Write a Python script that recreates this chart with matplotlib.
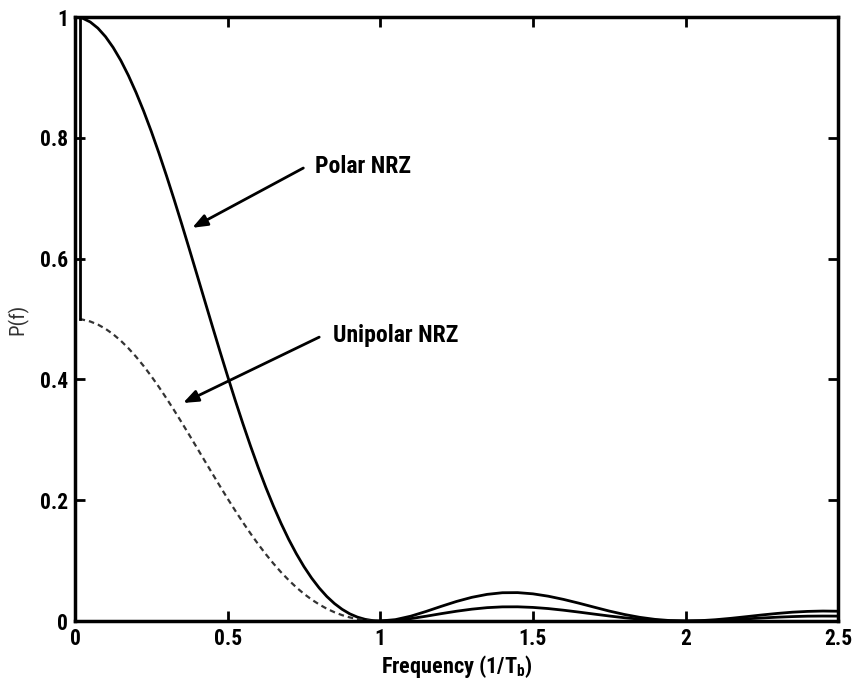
import matplotlib
import numpy as np

matplotlib.use("Agg")
import matplotlib.pyplot as plt  # noqa: E402

plt.rcParams["font.family"] = ["Noto Sans Condensed", "Roboto Condensed", "Liberation Sans Narrow",
                               "Liberation Sans", "DejaVu Sans"]
plt.rcParams["font.stretch"] = "condensed"

# Power spectral density samples, f in units of 1/Tb:
# step 0.025 over the main lobe, 0.05 beyond it
freq = np.concatenate([np.linspace(0, 1, 41), np.linspace(1.05, 2.5, 30)])
polar = [
    1.0000, 0.9980, 0.9918, 0.9816, 0.9675, 0.9496, 0.9282, 0.9032, 0.8751, 0.8442,
    0.8106, 0.7747, 0.7368, 0.6974, 0.6567, 0.6150, 0.5728, 0.5304, 0.4881, 0.4463,
    0.4053, 0.3653, 0.3268, 0.2898, 0.2546, 0.2214, 0.1904, 0.1617, 0.1353, 0.1115,
    0.0901, 0.0712, 0.0547, 0.0406, 0.0289, 0.0194, 0.0119, 0.0065, 0.0028, 0.0007,
    0.0000,
    0.0023, 0.0080, 0.0158, 0.0243, 0.0324, 0.0392, 0.0441, 0.0468, 0.0470, 0.0450,
    0.0411, 0.0358, 0.0296, 0.0230, 0.0165, 0.0108, 0.0061, 0.0027, 0.0007, 0.0000,
    0.0006, 0.0022, 0.0045, 0.0072, 0.0100, 0.0125, 0.0146, 0.0159, 0.0165, 0.0162,
]
unipolar = [
    0.5000, 0.4990, 0.4959, 0.4908, 0.4838, 0.4748, 0.4641, 0.4516, 0.4376, 0.4221,
    0.4053, 0.3874, 0.3684, 0.3487, 0.3283, 0.3075, 0.2864, 0.2652, 0.2441, 0.2232,
    0.2026, 0.1827, 0.1634, 0.1449, 0.1273, 0.1107, 0.0952, 0.0808, 0.0677, 0.0557,
    0.0450, 0.0356, 0.0274, 0.0203, 0.0145, 0.0097, 0.0060, 0.0032, 0.0014, 0.0003,
    0.0000,
    0.0011, 0.0040, 0.0079, 0.0122, 0.0162, 0.0196, 0.0221, 0.0234, 0.0235, 0.0225,
    0.0206, 0.0179, 0.0148, 0.0115, 0.0083, 0.0054, 0.0031, 0.0013, 0.0003, 0.0000,
    0.0003, 0.0011, 0.0023, 0.0036, 0.0050, 0.0063, 0.0073, 0.0080, 0.0082, 0.0081,
]
# DC impulse of the unipolar spectrum, drawn as a spike on top of the continuous part
spike_f = 0.015
spike_top = 1.0

xticks = [0, 0.5, 1, 1.5, 2, 2.5]
xticklabels = ["0", "0.5", "1", "1.5", "2", "2.5"]
yticks = [0, 0.2, 0.4, 0.6, 0.8, 1]
yticklabels = ["0", "0.2", "0.4", "0.6", "0.8", "1"]

fig = plt.figure(figsize=(8.57, 6.84), dpi=100)
ax = fig.add_axes([0.0875, 0.0921, 0.8905, 0.8830])

polar = np.array(polar)
unipolar = np.array(unipolar)
first_lobe = freq <= 1.0
tail = freq >= 1.0

ax.plot(freq, polar, color="black", lw=2.0)
uf = freq[first_lobe].copy()
uf[0] = spike_f
ax.plot(uf, unipolar[first_lobe], color="#333333", lw=1.6, linestyle=(0, (2.5, 1.8)))
ax.plot(freq[tail], unipolar[tail], color="black", lw=2.0)
ax.plot([spike_f, spike_f], [unipolar[0], spike_top], color="black", lw=2.0)

arrow = dict(arrowstyle="-|>,head_length=0.9,head_width=0.35", color="black", lw=2.0,
             shrinkA=0, shrinkB=0)
ax.annotate("", xy=(0.384, 0.651), xytext=(0.748, 0.750), arrowprops=arrow)
ax.annotate("", xy=(0.354, 0.361), xytext=(0.800, 0.470), arrowprops=arrow)
ax.text(0.787, 0.752, "Polar NRZ", fontsize=17, fontweight="bold", va="center", ha="left")
ax.text(0.846, 0.472, "Unipolar NRZ", fontsize=17, fontweight="bold", va="center", ha="left")

ax.set_xlim(0, 2.5)
ax.set_ylim(0, 1)
ax.set_xticks(xticks)
ax.set_xticklabels(xticklabels, fontsize=15.5, fontweight="bold")
ax.set_yticks(yticks)
ax.set_yticklabels(yticklabels, fontsize=15.5, fontweight="bold")
ax.tick_params(direction="in", length=7, width=2, top=True, right=True, pad=5)
for s in ax.spines.values():
    s.set_linewidth(2.5)

ax.set_xlabel(r"Frequency (1/T$_\mathregular{b}$)", fontsize=16, fontweight="bold", labelpad=2)
ax.set_ylabel("P(f)", fontsize=15, color="#333333", labelpad=8)

fig.savefig("out.png", dpi=100)
